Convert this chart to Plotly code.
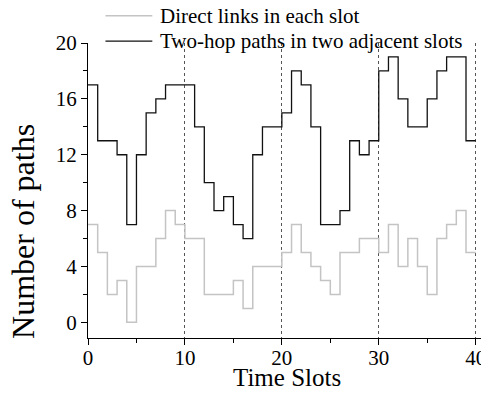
import plotly.graph_objects as go

# Slot boundaries (time slots 0..40)
slot_edges = list(range(41))
direct_links = [7, 5, 2, 3, 0, 4, 4, 6, 8, 7,
                6, 6, 2, 2, 2, 3, 1, 4, 4, 4,
                5, 7, 5, 4, 3, 2, 5, 5, 6, 6,
                5, 7, 4, 6, 4, 2, 6, 7, 8, 5]
two_hop = [17, 13, 13, 12, 7, 12, 15, 16, 17, 17,
           17, 14, 10, 8, 9, 7, 6, 12, 14, 14,
           15, 18, 17, 14, 7, 7, 8, 13, 12, 13,
           18, 19, 16, 14, 14, 16, 18, 19, 19, 13]
series_names = ["Direct links in each slot", "Two-hop paths in two adjacent slots"]
series_colors = ["#c4c4c4", "#111111"]
series_widths = [1.5, 1.3]
y_ticks = [0, 4, 8, 12, 16, 20]
x_ticks = [0, 10, 20, 30, 40]

FONT = "Liberation Serif, Times New Roman, serif"

fig = go.Figure()
for vals, name, col, w in zip([direct_links, two_hop], series_names, series_colors, series_widths):
    fig.add_trace(go.Scatter(
        x=slot_edges, y=vals + [vals[-1]],
        mode="lines", line_shape="hv",
        line=dict(color=col, width=w),
        name=name, showlegend=False,
    ))

# Manual legend (placed above the plot area, as in the reference)
legend_y = [1.092, 1.0065]
shapes = []
annotations = []
for name, col, w, ly in zip(series_names, series_colors, series_widths, legend_y):
    shapes.append(dict(type="line", xref="paper", yref="paper",
                       x0=0.044, x1=0.162, y0=ly, y1=ly,
                       line=dict(color=col, width=w)))
    annotations.append(dict(text=name, xref="paper", yref="paper",
                            x=0.1774, y=ly, xanchor="left", yanchor="middle",
                            showarrow=False,
                            font=dict(family=FONT, size=21, color="black")))

annotations.append(dict(
    text="Number of paths", textangle=-90,
    xref="paper", yref="paper", x=-0.162, y=0.362,
    xanchor="center", yanchor="middle", showarrow=False,
    font=dict(family=FONT, size=32, color="black"),
))
annotations.append(dict(
    text="Time Slots",
    xref="paper", yref="paper", x=0.5, y=-0.135,
    xanchor="center", yanchor="middle", showarrow=False,
    font=dict(family=FONT, size=25, color="black"),
))

# The page body has an 8px margin, so the figure is sized to fit inside it.
fig.update_layout(
    width=481, height=389,
    margin=dict(l=79.5, r=4, t=35, b=59.3, pad=0),
    paper_bgcolor="white", plot_bgcolor="white",
    font=dict(family=FONT, color="black", size=21),
    showlegend=False,
    xaxis=dict(
        range=[0, 40.96], tickvals=x_ticks,
        showline=True, linecolor="black", linewidth=1,
        ticks="outside", ticklen=6, tickwidth=1, tickcolor="black",
        minor=dict(dtick=5, tick0=0, ticks="outside", ticklen=4, tickcolor="black", showgrid=False),
        showgrid=True, gridcolor="#555555", griddash="dot", gridwidth=1.2,
        zeroline=False, automargin=False,
        ticklabelstandoff=-5,
        tickfont=dict(family=FONT, size=21),
    ),
    yaxis=dict(
        range=[-1.12, 20], tickvals=y_ticks,
        showline=True, linecolor="black", linewidth=1,
        ticks="outside", ticklen=6, tickwidth=1, tickcolor="black",
        minor=dict(dtick=2, tick0=0, ticks="outside", ticklen=4, tickcolor="black", showgrid=False),
        showgrid=False, zeroline=False, automargin=False,
        tickfont=dict(family=FONT, size=21),
    ),
    shapes=shapes,
    annotations=annotations,
)

fig.write_html("out.html")
